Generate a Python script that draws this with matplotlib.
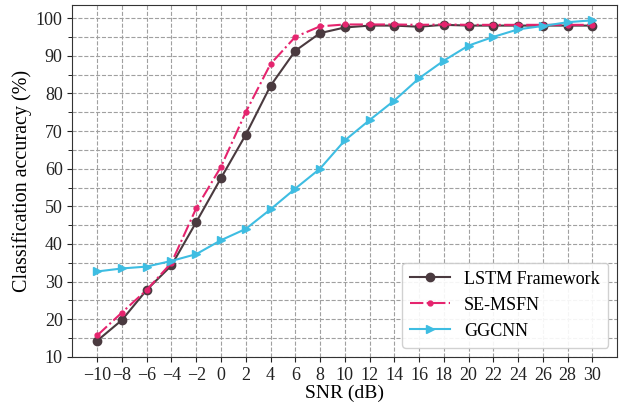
import matplotlib
matplotlib.use("Agg")
import matplotlib.pyplot as plt
from matplotlib.ticker import MultipleLocator

plt.rcParams['font.family'] = ['Liberation Serif', 'DejaVu Serif']
plt.rcParams['mathtext.fontset'] = 'stix'

snr = list(range(-10, 31, 2))
lstm = [14.3, 19.8, 27.8, 34.3, 45.8, 57.5, 69.0, 82.0, 91.3, 96.0, 97.5,
        98.0, 98.0, 97.7, 98.2, 98.0, 98.0, 98.0, 98.0, 98.0, 98.0]
semsfn = [15.7, 21.8, 27.8, 35.0, 49.5, 60.5, 75.0, 87.8, 95.0, 97.8, 98.3,
          98.3, 98.3, 98.2, 98.3, 98.2, 98.2, 98.2, 98.2, 98.2, 98.2]
ggcnn = [32.7, 33.5, 34.0, 35.5, 37.3, 41.0, 44.0, 49.2, 54.7, 60.0, 67.5,
         72.9, 78.1, 84.0, 88.7, 92.7, 95.0, 97.0, 97.9, 98.9, 99.4]

fig, ax = plt.subplots(figsize=(6.19, 4.07), dpi=100)
fig.subplots_adjust(left=0.117, right=0.997, top=0.988, bottom=0.123)

ax.plot(snr, lstm, '-o', color='#4a3a3f', ms=6, lw=1.5, label='LSTM Framework')
ax.plot(snr, semsfn, '-.', marker='o', color='#e5246e', ms=3.5, lw=1.5, label='SE-MSFN')
ax.plot(snr, ggcnn, '->', color='#3ebde2', ms=6, lw=1.5, label='GGCNN')

ax.set_xlim(-12, 32)
ax.set_ylim(10, 103.5)
ax.set_xticks(snr)
ax.set_xticklabels([str(s).replace('-', '\u2212') for s in snr])
ax.yaxis.set_major_locator(MultipleLocator(10))
ax.yaxis.set_minor_locator(MultipleLocator(5))
ax.tick_params(labelsize=13, colors='#222222')
ax.tick_params(axis='y', which='minor', length=3)

ax.grid(True, which='major', ls='--', color='#a0a0a0', lw=0.8)
ax.grid(True, which='minor', axis='y', ls='--', color='#a0a0a0', lw=0.8)
for s in ax.spines.values():
    s.set_color('#333333')

ax.set_xlabel('SNR (dB)', fontsize=14, labelpad=1)
ax.set_ylabel('Classification accuracy (%)', fontsize=14.5, labelpad=3)
ax.legend(loc='lower right', fontsize=13, handlelength=2.2, borderpad=0.45,
          labelspacing=0.5, framealpha=0.9)

fig.savefig('out.png', dpi=100)
